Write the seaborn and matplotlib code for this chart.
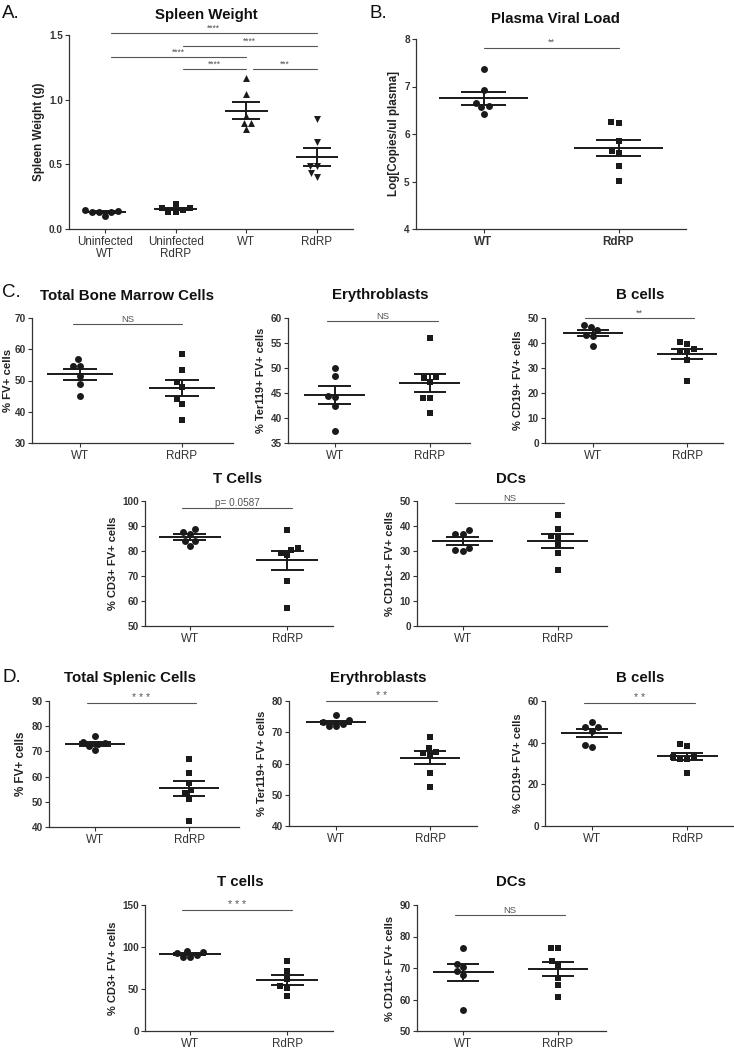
import numpy as np
import pandas as pd
import matplotlib.pyplot as plt
import seaborn as sns

sns.set_style("ticks")
plt.rcParams['font.family'] = ['Liberation Sans', 'DejaVu Sans']

#### values ####

# A. spleen weight (g)
a_groups = ["Uninfected\nWT", "Uninfected\nRdRP", "WT", "RdRP"]
a_uninf_wt = [0.14, 0.13, 0.10, 0.15, 0.13, 0.13]
a_uninf_rdrp = [0.195, 0.16, 0.135, 0.15, 0.16, 0.135]
a_wt = [1.17, 1.04, 0.87, 0.82, 0.82, 0.77]
a_rdrp = [0.85, 0.67, 0.49, 0.49, 0.43, 0.40]
a_stars = ["****", "****", "****", "****", "***"]

groups = ["WT", "RdRP"]

# B. plasma viral load
b_wt = [7.36, 6.93, 6.66, 6.58, 6.56, 6.42]
b_rdrp = [6.24, 6.26, 5.86, 5.65, 5.59, 5.32, 5.02]

# C. bone marrow
c_total_wt = [56.9, 54.8, 54.8, 51.6, 48.8, 45.2]
c_total_rdrp = [58.5, 53.5, 49.5, 47.9, 44.2, 42.5, 37.4]
c_ery_wt = [50.0, 48.5, 44.2, 44.5, 42.5, 37.5]
c_ery_rdrp = [56.0, 48.2, 48.0, 47.3, 44.1, 44.0, 41.0]
c_b_wt = [47.3, 46.4, 45.1, 43.3, 42.9, 38.7]
c_b_rdrp = [40.3, 39.6, 36.7, 37.7, 36.7, 33.3, 25.0]
c_t_wt = [87.7, 86.8, 88.7, 84.1, 84.1, 82.1]
c_t_rdrp = [88.6, 80.6, 81.3, 79.4, 78.3, 68.0, 57.4]
c_dc_wt = [36.9, 36.9, 38.3, 31.3, 30.0, 30.3]
c_dc_rdrp = [44.3, 38.9, 35.2, 35.9, 32.3, 29.3, 22.3]

# D. spleen
d_total_wt = [76.2, 73.8, 73.0, 73.2, 72.0, 70.5]
d_total_rdrp = [67.1, 61.5, 57.5, 53.5, 54.6, 51.3, 42.4]
d_ery_wt = [75.4, 73.9, 73.3, 72.5, 72.0, 72.1]
d_ery_rdrp = [68.6, 63.8, 64.9, 63.5, 62.7, 56.9, 52.4]
d_b_wt = [50.1, 47.4, 47.4, 45.8, 38.1, 38.9]
d_b_rdrp = [38.6, 39.4, 33.0, 32.0, 32.2, 33.3, 25.3]
d_t_wt = [93.7, 90.5, 87.7, 88.5, 93.3, 95.2]
d_t_rdrp = [83.7, 71.8, 61.9, 54.0, 50.8, 41.7]
d_dc_wt = [76.5, 71.2, 70.4, 69.0, 67.8, 56.7]
d_dc_rdrp = [76.2, 76.2, 72.2, 70.9, 66.9, 64.6, 60.9]

####################################################################

W, H = 734, 1050
fig = plt.figure(figsize=(W / 100, H / 100), dpi=100)
fig.patch.set_facecolor("white")

INK = "#1a1a1a"
GREY = "#555555"


def px_axes(l, t, r, b):
    return fig.add_axes([l / W, 1 - b / H, (r - l) / W, (b - t) / H])


def dot_panel(box, xlim, cats, values, markers, ylim, yticks, ylabel,
              mean_hw=0.32, sem_hw=0.17, fmt="{:.0f}", xbold=False, ylsize=8.4):
    ax = px_axes(*box)
    df = pd.DataFrame({"group": np.repeat(cats, [len(v) for v in values]),
                       "val": np.concatenate(values)})
    for g, m in zip(cats, markers):
        sns.swarmplot(data=df[df.group == g], x="group", y="val", order=cats,
                      marker=m, color=INK, size=5.0, ax=ax)
    stats = df.groupby("group", sort=False)["val"].agg(["mean", "sem"])
    for i, g in enumerate(cats):
        mu, se = stats.loc[g, "mean"], stats.loc[g, "sem"]
        ax.hlines(mu, i - mean_hw, i + mean_hw, color=INK, lw=1.4, zorder=4)
        ax.hlines([mu - se, mu + se], i - sem_hw, i + sem_hw, color=INK, lw=1.4, zorder=4)
        ax.vlines(i, mu - se, mu + se, color=INK, lw=1.4, zorder=4)
    ax.set_xlim(*xlim)
    ax.set_ylim(*ylim)
    ax.set_yticks(yticks, labels=[fmt.format(t) for t in yticks],
                  fontsize=7.2, fontweight="bold", color="#333333")
    ax.set_xticks(range(len(cats)), labels=cats, fontsize=8.4,
                  fontweight="bold" if xbold else "normal", color="#222222",
                  linespacing=1.0)
    ax.set_xlabel("")
    ax.set_ylabel(ylabel, fontsize=ylsize, fontweight="bold", color="#222222", labelpad=3)
    ax.tick_params(length=3, width=0.8, pad=1.5, colors="#333333")
    ax.tick_params(axis="x", pad=2)
    sns.despine(ax=ax)
    for s in ["left", "bottom"]:
        ax.spines[s].set_linewidth(0.9)
        ax.spines[s].set_color("#333333")
    return ax


def sig(ax, x1, x2, y, text, size=7):
    ax.plot([x1, x2], [y, y], color=GREY, lw=0.8, clip_on=False)
    ax.annotate(text, ((x1 + x2) / 2, y), xytext=(0, 0.3), textcoords="offset points",
                ha="center", va="bottom", fontsize=size, color=GREY, annotation_clip=False)


def title(x, y, s):
    fig.text(x / W, 1 - y / H, s, ha="center", va="center", fontsize=10.8,
             fontweight="bold", color="#111111")


def plabel(x, y, s):
    fig.text(x / W, 1 - y / H, s, ha="left", va="center", fontsize=13.5, color="#111111")


#### A. Spleen weight ####
ax = dot_panel((69, 35, 353, 229), (-0.51, 3.51), a_groups,
               [a_uninf_wt, a_uninf_rdrp, a_wt, a_rdrp], ["o", "s", "^", "v"],
               (0, 1.5), [0, 0.5, 1.0, 1.5], "Spleen Weight (g)",
               mean_hw=0.3, sem_hw=0.2, fmt="{:.1f}")
a_bars = [(0.08, 3.0, 1.515), (1.1, 3.0, 1.415), (0.08, 2.0, 1.33),
          (1.1, 2.0, 1.237), (2.1, 3.0, 1.237)]
for (x1, x2, y), s in zip(a_bars, a_stars):
    sig(ax, x1, x2, y, s, size=6.2)
title(206, 15, "Spleen Weight")
plabel(2, 14, "A.")

#### B. Plasma viral load ####
ax = dot_panel((416, 39, 686, 229), (-0.5, 1.5), groups, [b_wt, b_rdrp], ["o", "s"],
               (4, 8), [4, 5, 6, 7, 8], "Log[Copies/ul plasma]",
               mean_hw=0.33, sem_hw=0.17, xbold=True)
sig(ax, 0, 1.0, 7.82, "**", size=6.5)
title(555, 19, "Plasma Viral Load")
plabel(369, 14, "B.")

#### C. Bone marrow ####
ax = dot_panel((32, 318, 233, 443), (-0.47, 1.5), groups, [c_total_wt, c_total_rdrp],
               ["o", "s"], (30, 70), [30, 40, 50, 60, 70], "% FV+ cells", ylsize=8.2)
ax.yaxis.set_label_coords(-0.095, 0.5)
sig(ax, -0.07, 1.0, 68, "NS", size=6.8)
title(127, 296, "Total Bone Marrow Cells")

ax = dot_panel((288, 318, 470, 443), (-0.49, 1.42), groups, [c_ery_wt, c_ery_rdrp],
               ["o", "s"], (35, 60), [35, 40, 45, 50, 55, 60], "% Ter119+ FV+ cells",
               ylsize=8.0)
sig(ax, -0.08, 1.08, 59.4, "NS", size=6.8)
title(380, 295, "Erythroblasts")

ax = dot_panel((545, 318, 723, 443), (-0.51, 1.38), groups, [c_b_wt, c_b_rdrp],
               ["o", "s"], (0, 50), [0, 10, 20, 30, 40, 50], "% CD19+ FV+ cells",
               ylsize=8.0)
sig(ax, -0.08, 1.07, 50, "**", size=6.5)
title(640, 295, "B cells")
plabel(2, 292, "C.")

ax = dot_panel((145, 501, 333, 626), (-0.46, 1.47), groups, [c_t_wt, c_t_rdrp],
               ["o", "s"], (50, 100), [50, 60, 70, 80, 90, 100], "% CD3+ FV+ cells",
               ylsize=8.0)
sig(ax, -0.08, 1.05, 97.1, "p= 0.0587", size=7.2)
title(238, 479, "T Cells")

ax = dot_panel((417, 501, 607, 626), (-0.48, 1.52), groups, [c_dc_wt, c_dc_rdrp],
               ["o", "s"], (0, 50), [0, 10, 20, 30, 40, 50], "% CD11c+ FV+ cells",
               ylsize=8.0)
sig(ax, -0.08, 1.07, 49.2, "NS", size=6.8)
title(511, 479, "DCs")

#### D. Spleen ####
ax = dot_panel((49, 701, 239, 827), (-0.49, 1.53), groups, [d_total_wt, d_total_rdrp],
               ["o", "s"], (40, 90), [40, 50, 60, 70, 80, 90], "% FV+ cells")
sig(ax, -0.09, 1.07, 89.1, "* * *", size=7.5)
title(130, 678, "Total Splenic Cells")
plabel(2, 677, "D.")

ax = dot_panel((289, 701, 477, 826), (-0.5, 1.5), groups, [d_ery_wt, d_ery_rdrp],
               ["o", "s"], (40, 80), [40, 50, 60, 70, 80], "% Ter119+ FV+ cells",
               ylsize=8.0)
sig(ax, -0.11, 1.07, 80, "* *", size=7.5)
title(378, 678, "Erythroblasts")

ax = dot_panel((545, 701, 733, 826), (-0.49, 1.48), groups, [d_b_wt, d_b_rdrp],
               ["o", "s"], (0, 60), [0, 20, 40, 60], "% CD19+ FV+ cells",
               ylsize=8.0)
sig(ax, -0.08, 1.08, 58.9, "* *", size=7.5)
title(640, 678, "B cells")

ax = dot_panel((145, 905, 333, 1031), (-0.46, 1.47), groups, [d_t_wt, d_t_rdrp],
               ["o", "s"], (0, 150), [0, 50, 100, 150], "% CD3+ FV+ cells",
               ylsize=8.0)
sig(ax, -0.08, 1.05, 144, "* * *", size=7.5)
title(240, 882, "T cells")

ax = dot_panel((417, 905, 606, 1031), (-0.49, 1.51), groups, [d_dc_wt, d_dc_rdrp],
               ["o", "s"], (50, 90), [50, 60, 70, 80, 90], "% CD11c+ FV+ cells",
               ylsize=8.0)
sig(ax, -0.09, 1.08, 86.8, "NS", size=6.8)
title(511, 882, "DCs")

fig.savefig("out.png", dpi=100, facecolor="white")
